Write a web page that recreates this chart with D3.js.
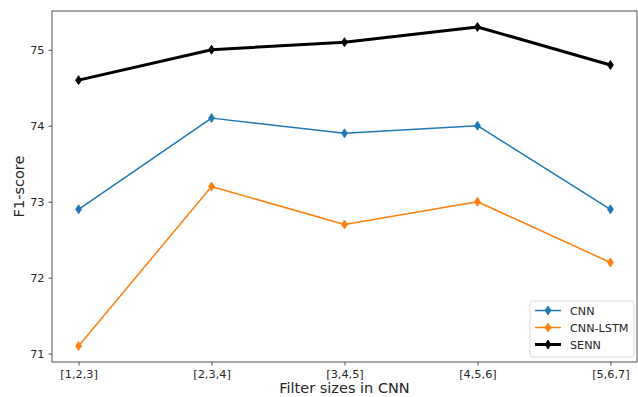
<!DOCTYPE html>
<html>
<head>
<meta charset="utf-8">
<script src="https://cdn.jsdelivr.net/npm/d3@7"></script>
<style>
  body { margin: 0; background: #fff; }
  svg { display: block; font-family: "DejaVu Sans", sans-serif; }
</style>
</head>
<body>
<svg id="chart" width="638" height="397"></svg>
<script>
const categories = ["[1,2,3]", "[2,3,4]", "[3,4,5]", "[4,5,6]", "[5,6,7]"];
const cnn = [72.9, 74.1, 73.9, 74.0, 72.9];
const cnnLstm = [71.1, 73.2, 72.7, 73.0, 72.2];
const senn = [74.6, 75.0, 75.1, 75.3, 74.8];
const yTicks = [71, 72, 73, 74, 75];

const series = [
  { name: "CNN", values: cnn, color: "#1f77b4", width: 1.5 },
  { name: "CNN-LSTM", values: cnnLstm, color: "#ff7f0e", width: 1.5 },
  { name: "SENN", values: senn, color: "#000000", width: 3 }
];

const svg = d3.select("#chart");
const plotL = 52, plotR = 637, plotT = 11, plotB = 362;

const x = d3.scaleLinear().domain([-0.2, 4.2]).range([plotL, plotR]);
const y = d3.scaleLinear().domain([70.89, 75.51]).range([plotB, plotT]);

// axes
const xAxis = d3.axisBottom(x).tickValues(d3.range(categories.length))
  .tickFormat(i => categories[i]).tickSize(3.5).tickPadding(4);
const yAxis = d3.axisLeft(y).tickValues(yTicks).tickFormat(d3.format("d"))
  .tickSize(3.5).tickPadding(4);

const gx = svg.append("g").attr("transform", `translate(0,${plotB})`).call(xAxis);
const gy = svg.append("g").attr("transform", `translate(${plotL},0)`).call(yAxis);
[gx, gy].forEach(g => {
  g.select(".domain").remove();
  g.selectAll("text").attr("font-size", 11.3).attr("fill", "#262626")
    .attr("font-family", "DejaVu Sans, sans-serif");
  g.selectAll("line").attr("stroke", "#262626").attr("stroke-width", 0.8);
});

// frame
svg.append("rect").attr("x", plotL).attr("y", plotT)
  .attr("width", plotR - plotL).attr("height", plotB - plotT)
  .attr("fill", "none").attr("stroke", "#262626").attr("stroke-width", 0.8);

// axis titles
svg.append("text").attr("x", (plotL + plotR) / 2).attr("y", 393)
  .attr("text-anchor", "middle").attr("font-size", 14.5).attr("fill", "#262626")
  .text("Filter sizes in CNN");
svg.append("text").attr("transform", `translate(24,${(plotT + plotB) / 2}) rotate(-90)`)
  .attr("text-anchor", "middle").attr("font-size", 14.5).attr("fill", "#262626")
  .text("F1-score");

const diamond = (cx, cy, w, h) =>
  `M${cx},${cy - h} L${cx + w},${cy} L${cx},${cy + h} L${cx - w},${cy} Z`;

const line = d3.line().x((d, i) => x(i)).y(d => y(d));

series.forEach(s => {
  const g = svg.append("g");
  g.append("path").attr("d", line(s.values)).attr("fill", "none")
    .attr("stroke", s.color).attr("stroke-width", s.width)
    .attr("stroke-linejoin", "round");
  g.selectAll("path.m").data(s.values).enter().append("path")
    .attr("class", "m")
    .attr("d", (d, i) => diamond(x(i), y(d), 3, 4.5))
    .attr("fill", s.color).attr("stroke", s.color).attr("stroke-width", 0.8);
});

// legend
const lg = svg.append("g").attr("transform", "translate(530,301)");
lg.append("rect").attr("width", 104).attr("height", 56).attr("rx", 2.5)
  .attr("fill", "#fff").attr("fill-opacity", 0.8)
  .attr("stroke", "#d0d0d0").attr("stroke-width", 0.8);
series.forEach((s, i) => {
  const cy = 9.5 + i * 17;
  lg.append("line").attr("x1", 5).attr("x2", 31).attr("y1", cy).attr("y2", cy)
    .attr("stroke", s.color).attr("stroke-width", s.width);
  lg.append("path").attr("d", diamond(18, cy, 3, 4.5)).attr("fill", s.color)
    .attr("stroke", s.color).attr("stroke-width", 0.8);
  lg.append("text").attr("x", 40).attr("y", cy + 4).attr("font-size", 11.2)
    .attr("fill", "#262626").text(s.name);
});
</script>
</body>
</html>
